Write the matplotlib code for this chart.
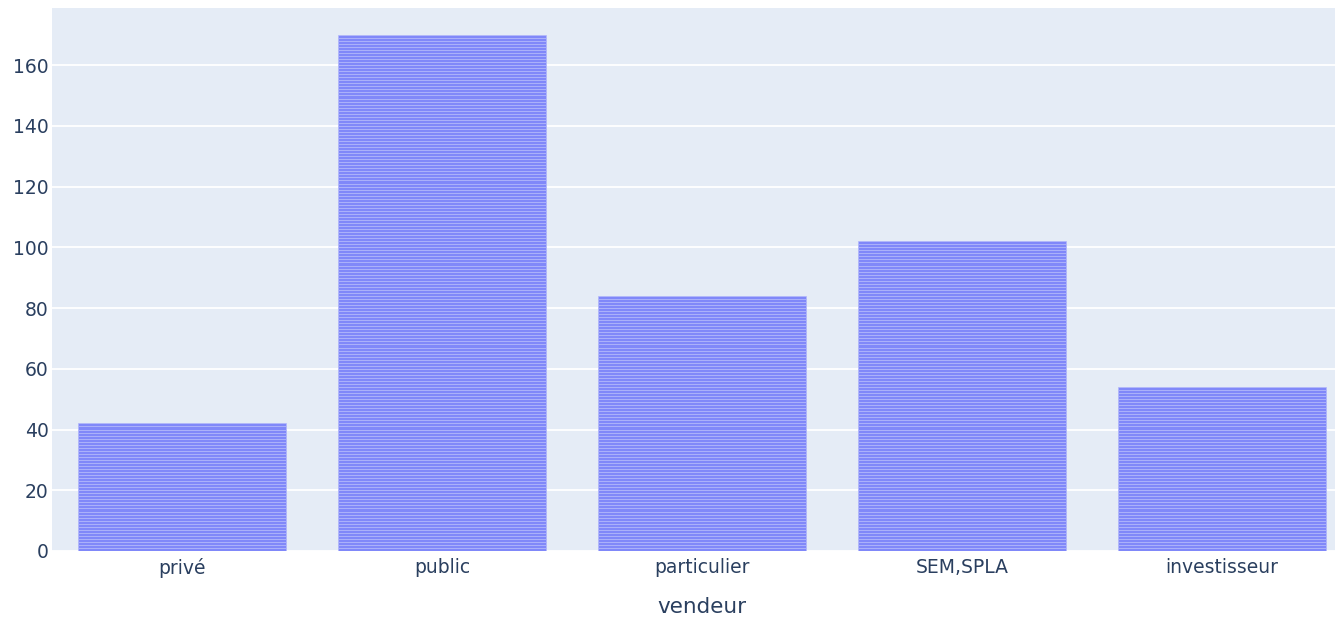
import matplotlib
matplotlib.use("Agg")
import matplotlib.pyplot as plt
import numpy as np

categories = ["privé", "public", "particulier", "SEM,SPLA", "investisseur"]
counts = [42, 170, 84, 102, 54]
y_ticks = [0, 20, 40, 60, 80, 100, 120, 140, 160]
x_title = "vendeur"

plt.rcParams['font.family'] = ['DejaVu Sans']

W, H = 1335, 617
fig = plt.figure(figsize=(W / 100, H / 100), dpi=100)
ax = fig.add_axes([52 / W, (H - 551) / H, 1300 / W, (551 - 8) / H])
ax.set_facecolor('#e5ecf6')

x = np.arange(len(categories))
for xi, c in zip(x, counts):
    ax.bar([xi] * c, [1] * c, bottom=np.arange(c), width=0.8,
           color='#8088f9', edgecolor='#b3b8fb', linewidth=0.5, zorder=3)

ax.set_xlim(-0.5, len(categories) - 0.5)
ax.set_ylim(0, 178.8)
ax.set_yticks(y_ticks)
ax.set_xticks(x)
ax.set_xticklabels(categories)
ax.grid(axis='y', color='white', linewidth=1.3, zorder=0)
ax.set_axisbelow(True)
for s in ax.spines.values():
    s.set_visible(False)
ax.tick_params(axis='both', length=0, labelsize=13.5, labelcolor='#2a3f5f')
ax.tick_params(axis='y', pad=2.5)
ax.tick_params(axis='x', pad=5)
ax.set_xlabel(x_title, fontsize=15.5, color='#2a3f5f', labelpad=14)

fig.savefig("out.png", dpi=100)
